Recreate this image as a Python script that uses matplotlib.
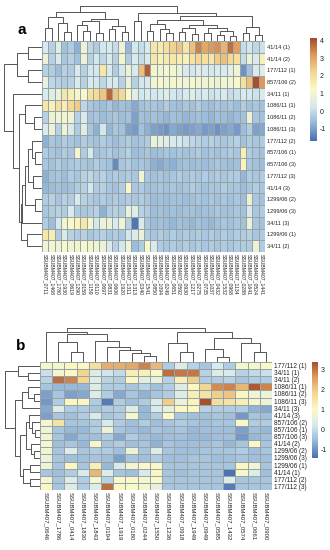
import numpy as np
import matplotlib
matplotlib.use('Agg')
import matplotlib.pyplot as plt
from matplotlib.colors import LinearSegmentedColormap

plt.rcParams['font.family'] = ['Liberation Sans', 'DejaVu Sans']

# ---------------- data: panel a ----------------
rows_a = ["41/14 (1)", "41/14 (2)", "177/112 (1)", "857/106 (2)", "34/11 (1)",
          "1086/11 (1)", "1086/11 (2)", "1086/11 (3)", "177/112 (2)", "857/106 (1)",
          "857/106 (3)", "177/112 (3)", "41/14 (3)", "1299/06 (2)", "1299/06 (3)",
          "34/11 (3)", "1299/06 (1)", "34/11 (2)"]
cols_a = ["SSUBM407_0711", "SSUBM407_1468", "SSUBM407_1780", "SSUBM407_1930", "SSUBM407_0619",
          "SSUBM407_1290", "SSUBM407_0159", "SSUBM407_1159", "SSUBM407_0110", "SSUBM407_0697",
          "SSUBM407_0831", "SSUBM407_0606", "SSUBM407_1920", "SSUBM407_1311", "SSUBM407_1313",
          "SSUBM407_0340", "SSUBM407_1541", "SSUBM407_0850", "SSUBM407_1094", "SSUBM407_0249",
          "SSUBM407_0651", "SSUBM407_0592", "SSUBM407_0930", "SSUBM407_1217", "SSUBM407_0275",
          "SSUBM407_0735", "SSUBM407_1037", "SSUBM407_0432", "SSUBM407_1532", "SSUBM407_0968",
          "SSUBM407_1134", "SSUBM407_0288", "SSUBM407_1641", "SSUBM407_0524", "SSUBM407_1441"]
vals_a = [
    [0.3, -0.2, 0.5, -0.5, -0.3, -0.8, 0.8, -0.1, -0.3, 0.2, 0.3, 0.0, 0.8, -0.7, 0.2, 0.0, 0.3, 1.8, 1.7, 2.0, 2.3, 2.5, 1.8, 2.6, 3.5, 3.0, 3.2, 3.3, 2.8, 3.7, 3.1, 0.0, 0.2, -0.1, 0.1],
    [0.8, -0.2, 0.3, -0.4, -0.2, -0.5, 0.8, -0.2, 0.2, -0.1, 0.3, -0.2, 1.0, -0.3, 0.3, 0.0, 0.3, 1.8, 1.5, 1.7, 1.8, 1.6, 1.5, 1.9, 2.2, 2.0, 1.8, 2.4, 2.6, 2.2, 2.0, 0.0, 0.8, 0.3, 1.5],
    [-0.2, -0.3, -0.6, -0.2, -0.3, 0.3, -0.2, 0.2, 0.2, 1.8, 0.3, -0.3, 0.2, 0.8, 0.3, 2.6, 3.9, 1.0, 0.9, 1.1, 1.0, 0.8, 0.3, 0.2, 0.5, 0.3, 0.2, 0.4, 0.3, 0.6, 0.9, -1.2, -0.5, 0.3, 0.5],
    [0.7, -0.1, -0.2, -0.3, -0.2, 0.3, -0.2, 0.3, 0.2, -0.1, 0.3, 0.3, -0.2, 0.8, -0.2, 0.2, 0.3, 1.0, 1.1, 0.9, 1.0, 1.0, 0.9, 1.1, 1.0, 0.9, 1.0, 0.8, 1.0, 0.9, 1.1, 2.0, 2.6, 4.1, 3.2],
    [0.3, 0.5, 0.8, 1.8, 1.6, 1.0, 1.1, 2.0, 2.1, 2.5, 3.8, 2.5, 2.2, 1.2, 0.5, 0.2, 0.4, 0.2, 0.3, 0.5, 0.2, 0.1, 0.3, 0.5, 0.2, 0.3, 0.1, 0.2, 0.3, 0.0, 0.1, 0.3, 0.2, 0.1, 0.3],
    [1.8, 1.5, 2.0, 1.6, 2.2, 2.4, -0.1, -0.4, -0.5, -0.6, -0.4, -0.7, -0.5, -0.6, -0.9, -0.5, -0.4, -0.4, -0.5, -0.3, -0.5, -0.6, -0.4, -0.5, -0.3, -0.5, -0.6, -0.4, -0.5, -0.4, -0.6, -0.3, -0.5, -0.4, -0.5],
    [-0.2, 0.8, 0.9, 1.0, 0.9, -0.2, 0.3, -0.5, -0.4, -0.6, -0.5, -0.4, -0.6, -0.5, -1.0, -0.5, -0.6, -0.5, -0.6, -0.7, -0.5, -0.6, -0.7, -0.6, -0.5, -0.6, -0.7, -0.5, -0.6, -0.7, -0.6, -0.5, 0.8, -0.4, -0.5],
    [0.3, 0.8, -0.2, 0.9, 0.3, -0.3, 0.5, -0.4, -0.8, 0.2, -0.7, -0.4, -0.5, -1.0, -1.1, -0.5, -0.8, -1.0, -1.1, -1.2, -0.9, -1.0, -1.1, -1.0, -0.9, -1.1, -1.0, -1.2, -1.0, -0.9, -1.1, -0.6, -0.3, -1.0, -0.9],
    [-0.8, -0.4, -0.5, -0.3, -0.4, -0.5, -0.3, -0.4, -0.5, -0.3, -0.4, -0.6, -0.4, -0.3, -0.5, -0.4, -0.3, 0.8, 0.6, 0.5, 0.3, 0.2, 0.1, -0.1, -0.2, -0.3, -0.2, -0.3, -0.4, -0.3, -0.2, -0.5, -0.3, -0.4, -0.3],
    [-0.3, -0.4, -0.5, -0.3, -0.4, 1.0, -0.3, 0.3, -0.5, -0.4, -0.3, -0.5, -0.4, -0.2, -0.6, -0.5, -0.4, -0.6, -0.5, -0.4, -0.5, -0.4, -0.5, -0.4, -0.3, -0.5, -0.4, -0.5, -0.4, -0.3, -0.4, 1.6, -0.3, -0.4, -0.5],
    [-0.4, -0.5, -0.3, -0.5, -0.4, -0.3, -0.4, -0.5, -0.3, -0.4, -0.5, -1.3, -0.4, -0.3, -0.5, -0.4, -0.5, -0.8, -0.9, -0.7, -0.8, -0.6, -0.5, -0.6, -0.5, -0.6, -0.5, -0.4, -0.5, -0.6, -0.5, 1.4, -0.4, -0.5, -0.6],
    [-0.8, -0.5, -0.4, -0.6, -0.3, -0.4, -0.2, -0.1, -0.3, -0.2, -0.4, -0.3, -0.4, -0.3, -0.4, 0.9, -0.4, -0.5, -0.4, -0.5, -0.4, -0.3, -0.4, -0.3, -0.4, -0.3, -0.4, -0.3, -0.4, -0.3, -0.3, -0.7, -0.3, -0.4, -0.3],
    [-0.7, -0.6, -0.5, -0.6, -0.5, -0.3, -0.2, 0.2, -0.3, -0.2, -0.4, -0.5, -0.3, 1.2, -0.4, -0.3, -0.5, -0.5, -0.4, -0.5, -0.4, -0.5, -0.4, -0.3, -0.4, -0.5, -0.4, -0.4, -0.3, -0.4, -0.4, -0.6, -0.4, -0.3, -0.4],
    [-0.3, -0.2, -0.4, -0.2, -0.3, 0.3, -0.2, -0.3, -0.4, -0.3, -0.4, -0.3, -0.4, -0.3, -0.4, -0.3, -0.4, -0.6, -0.5, -0.6, -0.5, -0.5, -0.6, -0.5, -0.4, -0.5, -0.4, -0.5, -0.4, -0.5, -0.4, -0.6, 0.8, -0.4, -0.5],
    [-0.4, -0.3, -0.2, -0.3, 0.3, -0.3, -0.4, -0.3, -0.2, -0.8, -0.3, -0.2, -0.3, 0.7, 0.5, -0.2, -0.3, -0.6, -0.5, -0.6, -0.5, -0.6, -0.5, -0.5, -0.6, -0.5, -0.5, -0.4, -0.5, -0.5, -0.4, -0.5, 0.3, -0.4, -0.3],
    [-0.3, -0.6, 0.2, 1.0, 1.2, 1.4, 1.8, 1.0, 0.2, 0.8, 0.8, 0.3, 0.9, -0.2, -1.6, 0.3, -0.4, -0.6, -0.5, -0.6, -0.7, -0.5, -0.6, -0.7, -0.5, -0.6, -0.7, -0.5, -0.4, -0.5, -0.4, -0.5, 0.8, -0.4, -0.5],
    [1.8, 1.6, -0.3, 0.3, -0.2, -0.3, -0.2, -0.4, -0.3, -0.2, -0.4, -0.3, -0.4, 0.2, 0.4, 0.8, -0.3, -0.4, -0.3, -0.4, -0.3, -0.4, -0.3, -0.4, -0.3, -0.4, -0.3, -0.4, -0.3, -0.4, -0.3, -0.3, -0.2, -0.4, -0.3],
    [0.9, 1.0, 0.8, 1.1, 0.9, 1.0, 1.1, 1.0, 0.9, 0.8, 0.3, -0.2, 0.2, 0.9, -0.6, -0.3, 1.1, 0.3, -0.3, -0.4, -0.3, -0.4, -0.3, -0.4, -0.3, -0.4, -0.3, -0.4, -0.3, -0.4, -0.3, -0.3, -0.3, 0.8, -0.3],
]
range_a = [-1.7, 4.15]
ticks_a = [-1, 0, 1, 2, 3, 4]

# ---------------- data: panel b ----------------
rows_b = ["177/112 (1)", "34/11 (1)", "34/11 (2)", "1086/11 (1)", "1086/11 (2)",
          "1086/11 (3)", "34/11 (3)", "41/14 (3)", "857/106 (2)", "857/106 (1)",
          "857/106 (3)", "41/14 (2)", "1299/06 (2)", "1299/06 (3)", "1299/06 (1)",
          "41/14 (1)", "177/112 (2)", "177/112 (3)"]
cols_b = ["SSUBM407_0646", "SSUBM407_1786", "SSUBM407_0414", "SSUBM407_1830", "SSUBM407_1843",
          "SSUBM407_0194", "SSUBM407_1919", "SSUBM407_0180", "SSUBM407_0244", "SSUBM407_1550",
          "SSUBM407_1236", "SSUBM407_0918", "SSUBM407_1949", "SSUBM407_0949", "SSUBM407_0585",
          "SSUBM407_1432", "SSUBM407_0574", "SSUBM407_0661", "SSUBM407_0900"]
vals_b = [
    [0.8, 0.8, 1.0, 1.0, 1.6, 2.3, 2.3, 2.4, 2.8, 2.2, -0.3, 0.3, -0.2, -0.4, 0.2, -0.3, 0.8, 0.8, 0.9],
    [0.0, 0.8, 0.9, 1.8, 0.3, 0.1, -0.1, 1.2, 1.2, 0.9, 3.0, 2.9, 2.9, -0.2, 0.3, 0.2, -0.2, -0.1, 0.0],
    [-0.2, 3.0, 2.8, 1.8, 0.3, -0.2, -0.3, 1.0, 0.4, 0.5, -0.2, 1.2, 1.9, -0.3, -0.3, -0.2, -0.4, -0.3, -0.3],
    [-0.4, -0.6, -0.6, -0.6, 0.3, -0.3, -0.3, -0.4, -0.2, -0.5, -0.3, 0.3, 1.0, 1.8, 2.7, 2.8, 2.2, 3.2, 2.8],
    [-0.9, -0.4, -0.9, -0.8, 0.3, -0.3, -0.8, -0.4, -0.7, -0.4, -0.3, 0.3, 1.2, 1.5, 1.9, 2.0, 1.0, 0.7, 0.6],
    [-1.0, -0.3, 1.0, 1.0, -0.3, -1.3, -0.3, -0.5, -0.3, 0.2, 1.9, 0.6, 1.1, 3.3, 1.6, 1.5, 1.2, 0.8, 0.6],
    [-0.8, 0.3, -0.3, -0.3, -0.4, -0.3, -0.3, 0.3, -0.6, 0.2, 0.5, 1.0, 1.0, -0.2, -0.3, -0.3, -0.3, -0.7, -0.8],
    [-0.9, -0.4, -0.5, -0.3, 0.2, -0.4, -0.3, 0.8, -0.6, -0.3, 0.9, -0.4, -0.5, -0.5, -0.4, -0.5, -1.0, -0.4, -0.5],
    [0.8, 1.5, -0.4, -0.4, -0.3, 0.2, -0.3, -0.5, -0.3, -0.5, -0.4, -0.3, -0.4, -0.5, -0.4, -0.4, 0.9, -0.3, -0.3],
    [0.7, -0.4, -0.6, -0.6, -0.3, 0.6, -0.4, -0.5, -0.6, -0.4, -0.5, -0.4, -0.6, -0.5, -0.5, -0.5, -0.9, -0.5, -0.6],
    [0.7, -0.4, -0.8, -0.5, -0.5, -0.3, -0.8, -0.3, -0.5, -0.6, -0.5, -0.5, -0.6, -0.6, -0.5, -0.5, -1.0, -0.6, -0.5],
    [0.8, -0.5, -0.4, -0.6, 0.8, -0.4, -0.3, -0.5, -0.4, -0.7, -0.4, -0.5, -0.5, -0.5, -0.4, -0.6, -0.4, 0.9, -0.4],
    [0.7, -0.4, 0.3, -0.4, -0.3, -0.3, -0.5, 0.6, -0.4, 0.3, -0.4, -0.5, -0.5, -0.4, -0.4, -0.4, -0.3, -0.5, -0.4],
    [0.6, -0.4, -0.5, -0.5, -0.4, -0.5, -0.9, -0.4, -0.5, -0.3, -0.5, -0.5, -0.4, -0.4, -0.5, -0.5, -0.4, -0.5, -0.5],
    [0.7, -0.4, 1.0, -0.4, 1.2, -0.6, 0.2, 0.8, 0.9, 0.9, -0.4, -0.4, -0.4, -0.4, -0.4, -0.4, 1.0, 0.7, -0.4],
    [-0.4, -0.5, -0.3, 0.2, 2.2, 0.3, -0.4, -0.5, 0.2, 1.0, -0.4, -0.5, -0.4, -0.4, -0.4, -1.4, 0.8, 0.3, -0.5],
    [0.8, -0.4, 0.3, -0.3, 0.8, -0.2, 0.9, 0.9, 0.8, 0.9, -0.4, -0.4, -0.4, -0.4, -0.4, 0.3, -0.4, -0.4, -0.4],
    [1.0, -0.4, 0.3, -0.3, 0.3, 3.0, 1.0, 0.9, 0.8, 0.5, -0.4, -0.4, -0.4, -0.4, -0.4, -1.3, -0.4, -0.4, -0.4],
]
range_b = [-1.45, 3.35]
ticks_b = [-1, 0, 1, 2, 3]

# ---------------- dendrograms (left, right, merge height) ----------------
col_tree_a = (
    (((0, 1, 13), (2, (3, 4, 9), 18), 24),
     (((5, (6, 7, 10), 16), (8, 9, 8), 20), ((10, 11, 12), (12, 13, 9), 15), 22),
     29),
    ((14, 15, 20),
     ((((16, 17, 10), (18, (19, 20, 8), 12), 17),
       (((21, 22, 9), (23, 24, 7), 13), ((25, 26, 8), ((27, 28, 6), (29, 30, 5), 10), 13), 16), 21),
      ((31, 32, 8), (33, 34, 6), 14), 25),
     28),
    35)
row_tree_a = (
    ((0, 1, 14), (2, 3, 14), 25),
    (4, ((5, (6, 7, 8), 17),
         ((((((8, (9, 10, 7), 10), (11, 12, 9), 14), (13, 14, 7), 17), 15, 20),
           (16, 17, 15), 21)), 23), 29),
    38)
col_tree_b = (
    (0, ((1, (2, 3, 10), 20), (4, (5, (6, (7, (8, 9, 6), 9), 12), 15), 21), 28), 30),
    ((10, (11, 12, 10), 19), ((13, (14, 15, 5), 13), (16, (17, 18, 10), 19), 24), 30),
    34)
row_tree_b = (
    (0, (1, 2, 12), 22),
    (((3, (4, 5, 6), 12), 6, 18),
     (((7, (8, (9, 10, 5), 8), 11), (11, (12, 13, 6), 9), 14),
      ((14, 15, 10), (16, 17, 10), 17), 20), 25),
    35)

# ---------------- style ----------------
W, H = 330, 550
cmap = LinearSegmentedColormap.from_list(
    'ph', ['#4a6fb0', '#93b6d8', '#d6e9ef', '#fbf9c6', '#f3d993', '#e09c5e', '#a44c2b'])
BORDER = '#9aa3a3'
DCOL = '#555555'

fig = plt.figure(figsize=(W / 100, H / 100), dpi=100)


def ax_px(x0, y0, x1, y1):
    return fig.add_axes([x0 / W, 1 - y1 / H, (x1 - x0) / W, (y1 - y0) / H])


def draw_tree(ax, tree, orient):
    def rec(node):
        if isinstance(node, int):
            return node + 0.5, 0.0
        l, r, h = node
        pl, hl = rec(l)
        pr, hr = rec(r)
        if orient == 'top':
            ax.plot([pl, pl, pr, pr], [hl, h, h, hr], color=DCOL, lw=0.7, solid_capstyle='butt')
        else:
            ax.plot([hl, h, h, hr], [pl, pl, pr, pr], color=DCOL, lw=0.7, solid_capstyle='butt')
        return (pl + pr) / 2, h
    rec(tree)
    ax.axis('off')


def panel(vals, rows, cols, rng, ticks, ctree, rtree, hbox, cbox, rbox, bbox,
          cmax, rmax, rfs, cfs):
    data = np.array(vals)
    nr, nc = data.shape
    ax = ax_px(*hbox)
    ax.pcolormesh(data, cmap=cmap, vmin=rng[0], vmax=rng[1],
                  edgecolors=BORDER, linewidth=0.4)
    ax.set_xlim(0, nc)
    ax.set_ylim(nr, 0)
    ax.yaxis.tick_right()
    ax.set_yticks(np.arange(nr) + 0.5)
    ax.set_yticklabels(rows, fontsize=rfs, color='#222222')
    ax.set_xticks(np.arange(nc) + 0.5)
    ax.set_xticklabels(cols, fontsize=cfs, rotation=270, ha='center', va='top', color='#222222')
    ax.tick_params(length=0, pad=1.5)
    for s in ax.spines.values():
        s.set_visible(False)

    axc = ax_px(*cbox)
    draw_tree(axc, ctree, 'top')
    axc.set_xlim(0, nc)
    axc.set_ylim(0, cmax)

    axr = ax_px(*rbox)
    draw_tree(axr, rtree, 'left')
    axr.set_ylim(nr, 0)
    axr.set_xlim(rmax, 0)

    axb = ax_px(*bbox)
    grad = np.linspace(rng[0], rng[1], 200).reshape(-1, 1)
    axb.imshow(grad, cmap=cmap, vmin=rng[0], vmax=rng[1], aspect='auto',
               origin='lower', extent=[0, 1, rng[0], rng[1]])
    axb.set_xlim(0, 1)
    axb.set_ylim(rng[0], rng[1])
    axb.set_xticks([])
    axb.yaxis.tick_right()
    axb.set_yticks(ticks)
    axb.set_yticklabels([str(t) for t in ticks], fontsize=5, color='#222222')
    axb.tick_params(length=0, pad=2)
    for s in axb.spines.values():
        s.set_visible(False)


panel(vals_a, rows_a, cols_a, range_a, ticks_a, col_tree_a, row_tree_a,
      (42, 41, 265, 252), (42, 3, 265, 41), (3, 41, 42, 252), (310, 38, 317, 141),
      38, 39, 4.1, 3.7)
panel(vals_b, rows_b, cols_b, range_b, ticks_b, col_tree_b, row_tree_b,
      (40, 362, 272, 490), (40, 320, 272, 362), (4, 362, 40, 490), (312, 362, 318, 458),
      42, 36, 4.7, 4.3)

fig.text(22 / W, 1 - 30 / H, 'a', fontsize=11, fontweight='bold', ha='center', va='center')
fig.text(21 / W, 1 - 346 / H, 'b', fontsize=11, fontweight='bold', ha='center', va='center')

fig.savefig('out.png', dpi=100)
